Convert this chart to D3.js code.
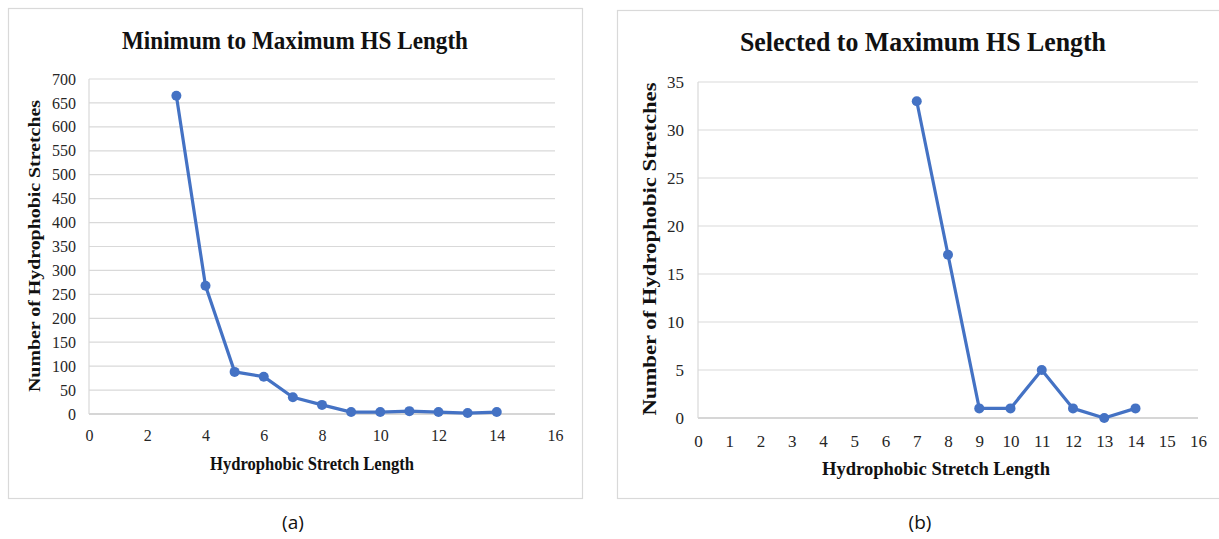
<!DOCTYPE html>
<html><head><meta charset="utf-8">
<script src="https://cdn.jsdelivr.net/npm/d3@7"></script>
<style>body{margin:0;background:#fff}svg{display:block}</style>
</head><body>
<svg id="c" width="1219" height="539"></svg>
<script>
// Data
const lengthsA = [3,4,5,6,7,8,9,10,11,12,13,14];
const countsA  = [665,268,88,78,35,19,4,4,6,4,2,4];
const yTicksA  = [0,50,100,150,200,250,300,350,400,450,500,550,600,650,700];
const xTicksA  = [0,2,4,6,8,10,12,14,16];

const lengthsB = [7,8,9,10,11,12,13,14];
const countsB  = [33,17,1,1,5,1,0,1];
const yTicksB  = [0,5,10,15,20,25,30,35];
const xTicksB  = [0,1,2,3,4,5,6,7,8,9,10,11,12,13,14,15,16];

const titleA = "Minimum to Maximum HS Length";
const titleB = "Selected to Maximum HS Length";
const yLabel = "Number of Hydrophobic Stretches";
const xLabel = "Hydrophobic Stretch Length";

const svg = d3.select("#c");
const serif = "Liberation Serif, serif";
const blue = "#4472C4";

function chart(o){
  const g = svg.append("g");
  g.append("rect").attr("x",o.frame[0]).attr("y",o.frame[1]).attr("width",o.frame[2]).attr("height",o.frame[3])
    .attr("fill","#fff").attr("stroke","#d9d9d9").attr("stroke-width",1.2);
  const x = d3.scaleLinear().domain([0,16]).range([o.left,o.right]);
  const y = d3.scaleLinear().domain([0,o.ymax]).range([o.bottom,o.top]);
  g.append("g").selectAll("line").data(o.yTicks.filter(d=>d>0)).join("line")
    .attr("x1",o.left).attr("x2",o.right).attr("y1",d=>y(d)).attr("y2",d=>y(d))
    .attr("stroke","#d9d9d9").attr("stroke-width",1.2);
  g.append("line").attr("x1",o.left).attr("x2",o.right).attr("y1",o.bottom).attr("y2",o.bottom).attr("stroke","#c8c8c8").attr("stroke-width",1.5);
  g.append("line").attr("x1",o.left).attr("x2",o.left).attr("y1",o.top).attr("y2",o.bottom).attr("stroke","#d9d9d9").attr("stroke-width",1.2);
  const yAx = d3.axisLeft(y).tickValues(o.yTicks).tickSize(0).tickPadding(o.ypad);
  const ya = g.append("g").attr("transform",`translate(${o.left},0)`).call(yAx);
  ya.select(".domain").remove();
  ya.selectAll("text").style("font-family",serif).style("font-size",o.tickSize+"px").attr("fill","#262626");
  const xAx = d3.axisBottom(x).tickValues(o.xTicks).tickSize(0).tickPadding(o.xpad);
  const xa = g.append("g").attr("transform",`translate(0,${o.bottom})`).call(xAx);
  xa.select(".domain").remove();
  xa.selectAll("text").style("font-family",serif).style("font-size",o.tickSize+"px").attr("fill","#262626");
  const pts = o.xs.map((d,i)=>[d,o.ys[i]]);
  g.append("path").datum(pts).attr("d",d3.line().x(d=>x(d[0])).y(d=>y(d[1])))
    .attr("fill","none").attr("stroke",blue).attr("stroke-width",3.2).attr("stroke-linejoin","round");
  g.append("g").selectAll("circle").data(pts).join("circle")
    .attr("cx",d=>x(d[0])).attr("cy",d=>y(d[1])).attr("r",5).attr("fill",blue);
  g.append("text").attr("x",o.title[0]).attr("y",o.title[1]).attr("text-anchor","middle")
    .style("font-family",serif).style("font-weight","bold").style("font-size",o.title[2]+"px")
    .attr("textLength",o.title[3]).attr("lengthAdjust","spacingAndGlyphs").attr("fill","#111").text(o.titleText);
  g.append("text").attr("transform",`translate(${o.yl[0]},${o.yl[1]}) rotate(-90)`).attr("text-anchor","middle")
    .style("font-family",serif).style("font-weight","bold").style("font-size",o.yl[2]+"px")
    .attr("textLength",o.yl[3]).attr("lengthAdjust","spacingAndGlyphs").attr("fill","#111").text(yLabel);
  g.append("text").attr("x",o.xl[0]).attr("y",o.xl[1]).attr("text-anchor","middle")
    .style("font-family",serif).style("font-weight","bold").style("font-size",o.xl[2]+"px")
    .attr("textLength",o.xl[3]).attr("lengthAdjust","spacingAndGlyphs").attr("fill","#111").text(xLabel);
}

chart({frame:[8.5,8.5,574,490], left:89, right:555, top:79, bottom:414, ymax:700,
  yTicks:yTicksA, xTicks:xTicksA, xs:lengthsA, ys:countsA, tickSize:16, ypad:13, xpad:16,
  titleText:titleA, title:[295,49,26,346], yl:[40,246,17,292], xl:[312,470,18,204]});
chart({frame:[617.5,10.5,610,488], left:698, right:1198, top:82, bottom:418, ymax:35,
  yTicks:yTicksB, xTicks:xTicksB, xs:lengthsB, ys:countsB, tickSize:17, ypad:14, xpad:17,
  titleText:titleB, title:[923,51,27,366], yl:[656,249,18,333], xl:[936,475,19,228]});

svg.append("text").attr("x",293).attr("y",529).attr("text-anchor","middle")
  .style("font-family","Open Sans, Liberation Sans, sans-serif").style("font-size","19px").attr("fill","#111").text("(a)");
svg.append("text").attr("x",920).attr("y",529).attr("text-anchor","middle")
  .style("font-family","Open Sans, Liberation Sans, sans-serif").style("font-size","19px").attr("fill","#111").text("(b)");
</script>
</body></html>
